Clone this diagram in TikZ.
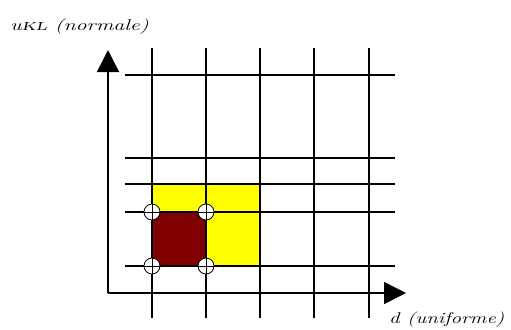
\documentclass[tikz,border=0pt]{standalone}
\usetikzlibrary{arrows.meta}
\definecolor{darkred}{RGB}{128,0,0}
\definecolor{yel}{RGB}{255,255,0}
\tikzset{
  gridline/.style={line width=1.5bp,black},
  axisline/.style={line width=1.5bp,black,-{Triangle[width=22bp,length=22bp]}},
  knot/.style={circle,draw=black,fill=white,line width=0.8bp,minimum size=16bp,inner sep=0pt},
  lbl/.style={inner sep=0pt,anchor=base west,font=\fontsize{13}{15}\selectfont\itshape}
}
\begin{document}
\begin{tikzpicture}[x=1bp,y=-1bp]
\useasboundingbox (0,0) rectangle (511,329);
% shaded cells
\fill[yel] (152,184) rectangle (260,266);
\fill[darkred] (152,212) rectangle (206,266);
% grid
\foreach \gx in {152,206,260,314,369} \draw[gridline] (\gx,48) -- (\gx,318);
\foreach \gy in {75,158,184,212,266} \draw[gridline] (125,\gy) -- (395,\gy);
% axes
\coordinate (o) at (108,293);
\coordinate (ytop) at (108,50);
\coordinate (xend) at (406,293);
\draw[axisline] (o) -- (ytop);
\draw[axisline] (o) -- (xend);
% knots
\foreach \kx/\ky/\kn in {152/212/k1,206/212/k2,152/266/k3,206/266/k4}{
  \node[knot] (\kn) at (\kx,\ky) {};
  \draw[line width=1bp] (\kn.west) -- (\kn.east) (\kn.north) -- (\kn.south);
}
% labels
\node[lbl] (ylab) at (10,30) {\scalebox{1.7}[1.2]{u{\scshape kl} (normale)}};
\node[lbl] (xlab) at (389,323) {\scalebox{1.62}[1.2]{d (uniforme)}};
\end{tikzpicture}
\end{document}
